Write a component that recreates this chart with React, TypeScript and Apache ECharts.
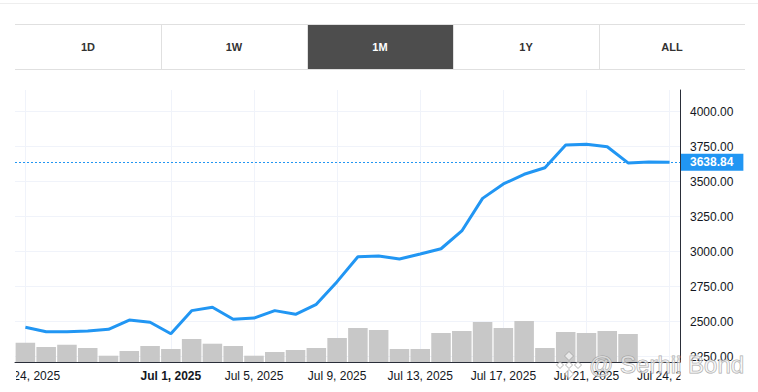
import React, { useEffect, useRef } from "react";
import * as echarts from "echarts";

const dates = [
  "2025-06-24", "2025-06-25", "2025-06-26", "2025-06-27", "2025-06-28", "2025-06-29", "2025-06-30",
  "2025-07-01", "2025-07-02", "2025-07-03", "2025-07-04", "2025-07-05", "2025-07-06", "2025-07-07",
  "2025-07-08", "2025-07-09", "2025-07-10", "2025-07-11", "2025-07-12", "2025-07-13", "2025-07-14",
  "2025-07-15", "2025-07-16", "2025-07-17", "2025-07-18", "2025-07-19", "2025-07-20", "2025-07-21",
  "2025-07-22", "2025-07-23", "2025-07-23T12:00", "2025-07-24",
];

const prices = [
  2460, 2428, 2428, 2433, 2446, 2512, 2496, 2414, 2579, 2603, 2517, 2526, 2579, 2553, 2624, 2786,
  2964, 2969, 2948, 2984, 3021, 3148, 3381, 3484, 3553, 3600, 3762, 3767, 3750, 3634, 3641, 3638.84,
];

const volumes = [
  193, 150, 173, 140, 63, 110, 160, 130, 230, 183, 160, 63, 100, 120, 140, 240,
  340, 320, 130, 130, 290, 310, 400, 340, 410, 140, 300, 290, 310, 280, 0, 0,
];

const labelIndices = [0, 7, 11, 15, 19, 23, 27, 31];
const boldIndices = [7];
const lastPrice = 3638.84;
const tabs = ["1D", "1W", "1M", "1Y", "ALL"];
const activeTab = "1M";
const MONTHS = ["Jan", "Feb", "Mar", "Apr", "May", "Jun", "Jul", "Aug", "Sep", "Oct", "Nov", "Dec"];

function fmtDate(s: string) {
  const [y, m, d] = s.slice(0, 10).split("-").map(Number);
  return `${MONTHS[m - 1]} ${d}, ${y}`;
}

const FONT = "'Liberation Sans', Arial, sans-serif";
const TEXT = "#131722";

export default function App() {
  const ref = useRef<HTMLDivElement>(null);
  useEffect(() => {
    if (!ref.current) return;
    const chart = echarts.init(ref.current, undefined, { renderer: "svg" });
    const showIdx = (i: number) => labelIndices.includes(i);

    const tabLeft = 15;
    const tabW = 146;
    const graphics: any[] = [
      { type: "line", shape: { x1: 0, y1: 3.5, x2: 758, y2: 3.5 }, style: { stroke: "#eeeeee", lineWidth: 1 } },
    ];
    tabs.forEach((t, i) => {
      const x = tabLeft + i * tabW;
      if (t === activeTab) {
        graphics.push({ type: "rect", shape: { x: x, y: 25, width: tabW, height: 44 }, style: { fill: "#4d4d4d" } });
      }
      if (i > 0) {
        graphics.push({ type: "line", shape: { x1: x + 0.5, y1: 24, x2: x + 0.5, y2: 69 }, style: { stroke: "#e0e0e0", lineWidth: 1 } });
      }
      graphics.push({
        type: "text",
        x: x + tabW / 2,
        y: 47,
        style: {
          text: t,
          fill: t === activeTab ? "#ffffff" : "#333333",
          font: `bold 11px ${FONT}`,
          align: "center",
          verticalAlign: "middle",
        },
      });
    });
    graphics.push(
      { type: "line", shape: { x1: 15, y1: 24.5, x2: 745, y2: 24.5 }, style: { stroke: "#e0e0e0", lineWidth: 1 } },
      { type: "line", shape: { x1: 15, y1: 69.5, x2: 745, y2: 69.5 }, style: { stroke: "#e0e0e0", lineWidth: 1 } },
      { type: "rect", z: 100, shape: { x: 0, y: 364, width: 16, height: 28 }, style: { fill: "#ffffff" } },
      { type: "rect", z: 100, shape: { x: 680.5, y: 365, width: 78, height: 27 }, style: { fill: "#ffffff" } }
    );
    const diamonds = [
      [569, 356, 4.5],
      [560, 365, 3.5],
      [578, 365, 3.5],
      [569, 365, 3.5],
      [569, 374, 4.5],
    ];
    diamonds.forEach(([cx, cy, r]) => {
      graphics.push({
        type: "polygon",
        z: 101,
        shape: { points: [[cx, cy - r], [cx + r, cy], [cx, cy + r], [cx - r, cy]] },
        style: { fill: "rgba(255,255,255,0.6)", stroke: "rgba(160,160,160,0.8)", lineWidth: 1 },
      });
    });
    graphics.push({
      type: "text",
      z: 101,
      x: 589,
      y: 364,
      style: {
        text: "@ Serhii Bond",
        font: `24px ${FONT}`,
        fill: "rgba(255,255,255,0.55)",
        stroke: "rgba(150,150,150,0.85)",
        lineWidth: 1,
        verticalAlign: "middle",
      },
    });

    chart.setOption({
      animation: false,
      textStyle: { fontFamily: FONT },
      grid: [
        { left: 15, right: 78, top: 111.7, bottom: 35.3, outerBoundsMode: "none", containLabel: false },
        { left: 15, right: 78, top: 90, bottom: 30, outerBoundsMode: "none", containLabel: false },
      ],
      xAxis: [
        { type: "category", gridIndex: 0, data: dates, boundaryGap: true, show: false },
        {
          type: "category",
          gridIndex: 1,
          data: dates,
          boundaryGap: true,
          axisLine: { lineStyle: { color: "#2a2e39", width: 1 } },
          axisTick: { show: false },
          axisLabel: {
            interval: (i: number) => showIdx(i),
            color: TEXT,
            fontSize: 12,
            margin: 8,
            fontFamily: FONT,
            formatter: (v: string, i: number) =>
              boldIndices.includes(i) ? `{b|${fmtDate(v)}}` : fmtDate(v),
            rich: { b: { fontWeight: "bold", fontSize: 12, color: TEXT, fontFamily: FONT } },
          },
          splitLine: {
            show: true,
            interval: (i: number) => showIdx(i),
            alignWithLabel: true,
            lineStyle: { color: "#f0f3fa", width: 1 },
          },
        },
      ],
      yAxis: [
        {
          type: "value",
          gridIndex: 0,
          position: "right",
          min: 2250,
          max: 4000,
          interval: 250,
          axisLine: { show: false },
          axisTick: { show: false },
          axisLabel: {
            color: TEXT,
            fontSize: 12,
            margin: 10,
            fontFamily: FONT,
            formatter: (v: number) => v.toFixed(2),
          },
          splitLine: { lineStyle: { color: "#f0f3fa", width: 1 } },
        },
        {
          type: "value",
          gridIndex: 1,
          position: "right",
          min: 0,
          max: 2720,
          axisLine: { show: true, lineStyle: { color: "#2a2e39", width: 1 } },
          axisTick: { show: false },
          axisLabel: { show: false },
          splitLine: { show: false },
        },
      ],
      series: [
        {
          type: "bar",
          xAxisIndex: 1,
          yAxisIndex: 1,
          data: volumes,
          barWidth: "94%",
          itemStyle: { color: "#c8c8c8" },
          silent: true,
        },
        {
          type: "line",
          xAxisIndex: 0,
          yAxisIndex: 0,
          data: prices,
          showSymbol: false,
          symbol: "none",
          lineStyle: { color: "#2196f3", width: 3 },
          silent: true,
          markLine: {
            silent: true,
            symbol: "none",
            lineStyle: { color: "#2196f3", type: [2, 2], width: 1 },
            label: {
              show: true,
              position: "end",
              distance: 1,
              formatter: () => lastPrice.toFixed(2),
              color: "#ffffff",
              backgroundColor: "#2196f3",
              fontSize: 12,
              fontWeight: "bold",
              fontFamily: FONT,
              lineHeight: 13,
              padding: [2, 10, 2, 9],
            },
            data: [{ yAxis: lastPrice }],
          },
        },
      ],
      graphic: graphics,
    });
    return () => chart.dispose();
  }, []);
  return <div ref={ref} style={{ position: "absolute", left: 0, top: 0, width: 758, height: 392 }} />;
}
